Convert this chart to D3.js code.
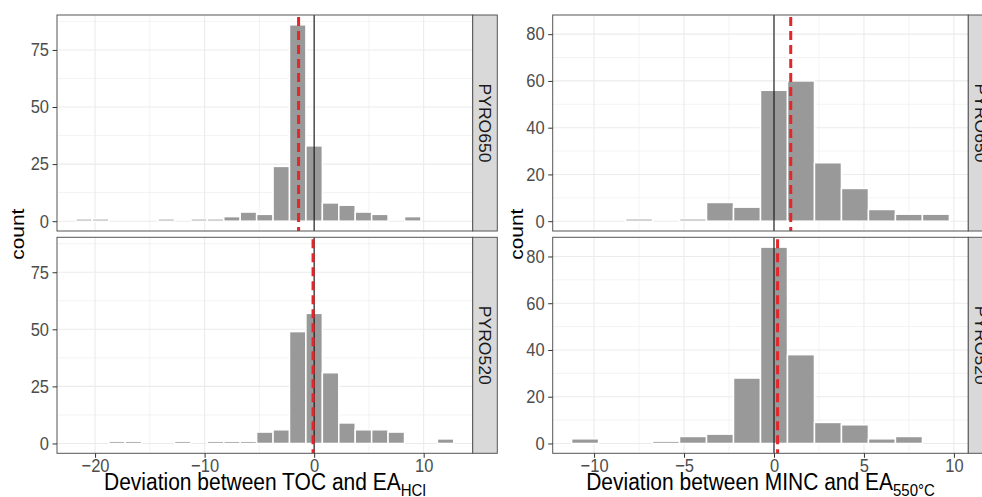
<!DOCTYPE html>
<html>
<head>
<meta charset="utf-8">
<script src="https://cdn.jsdelivr.net/npm/d3@7"></script>
<style>
  html, body { margin: 0; padding: 0; background: #fff; overflow: hidden; }
  svg { display: block; font-family: "Liberation Sans", Arial, sans-serif; }
</style>
</head>
<body>
<svg id="chart" width="982" height="497"></svg>
<script>
// histogram data (bin centres, width 1.5)
const binWidth = 1.5;
const facetLabels = ["PYRO650", "PYRO520"];

const tocBins = [-21, -19.5, -18, -16.5, -15, -13.5, -12, -10.5, -9, -7.5, -6, -4.5, -3, -1.5, 0, 1.5, 3, 4.5, 6, 7.5, 9, 10.5, 12];
const tocPyro650 = [1, 1, 0, 0, 0, 1, 0, 1, 1, 2, 4, 3, 24, 86, 33, 8, 7, 4, 3, 0, 2, 0, 0];
const tocPyro520 = [0, 0, 1, 1, 0, 0, 1, 0, 1, 1, 1, 5, 6, 49, 57, 31, 9, 6, 6, 5, 0, 0, 2];
const tocMeans = [-1.42, -0.1];
const tocXTicks = [-20, -10, 0, 10];
const tocYTicks = [0, 25, 50, 75];

const mincBins = [-10.5, -9, -7.5, -6, -4.5, -3, -1.5, 0, 1.5, 3, 4.5, 6, 7.5, 9];
const mincPyro650 = [0, 0, 1, 0, 1, 8, 6, 56, 60, 25, 14, 5, 3, 3];
const mincPyro520 = [2, 0, 0, 1, 3, 4, 28, 84, 38, 9, 8, 2, 3, 0];
const mincMeans = [0.93, 0.2];
const mincXTicks = [-10, -5, 0, 5, 10];
const mincYTicks = [0, 20, 40, 60, 80];

const svg = d3.select("#chart");
const rows = [[15, 231], [237.3, 453.3]];
const stripW = 24.6;
const gridCol = "#ebebeb";
const borderCol = "#555";
const SY = 1.1; // the source figure is a little taller than wide

// minor breaks halfway between the major ones, kept inside the domain
const minorOf = (ticks, dom) => {
  const step = ticks[1] - ticks[0];
  const out = [];
  for (let v = ticks[0] - step / 2; v <= dom[1]; v += step) {
    if (v >= dom[0]) out.push(v);
  }
  return out;
};

// stretch text vertically around its own anchor
const stretch = (sel) => sel.each(function () {
  const t = d3.select(this);
  const x = +t.attr("x") || 0, y = +t.attr("y") || 0;
  t.attr("transform", `translate(${x},${y}) scale(1,${SY}) translate(${-x},${-y})`);
});

function drawPlot(p) {
  const lo = d3.min(p.bins) - binWidth / 2;
  const hi = d3.max(p.bins) + binWidth / 2;
  const pad = (hi - lo) * 0.05;
  const x = d3.scaleLinear().domain([lo - pad, hi + pad]).range([p.left, p.right]);
  const maxC = d3.max(p.series.flat());

  p.series.forEach((counts, i) => {
    const [top, bottom] = rows[i];
    const y = d3.scaleLinear().domain([-0.05 * maxC, 1.05 * maxC]).range([bottom, top]);
    const g = svg.append("g");

    g.append("rect")
      .attr("x", p.left).attr("y", top)
      .attr("width", p.right - p.left).attr("height", bottom - top)
      .attr("fill", "#fff");

    // grid
    g.selectAll(".gx-minor").data(minorOf(p.xTicks, x.domain())).join("line")
      .attr("x1", d => x(d)).attr("x2", d => x(d))
      .attr("y1", top).attr("y2", bottom)
      .attr("stroke", gridCol).attr("stroke-width", 0.6);
    g.selectAll(".gy-minor").data(minorOf(p.yTicks, y.domain())).join("line")
      .attr("y1", d => y(d)).attr("y2", d => y(d))
      .attr("x1", p.left).attr("x2", p.right)
      .attr("stroke", gridCol).attr("stroke-width", 0.6);
    g.selectAll(".gx").data(p.xTicks).join("line")
      .attr("x1", d => x(d)).attr("x2", d => x(d))
      .attr("y1", top).attr("y2", bottom)
      .attr("stroke", gridCol).attr("stroke-width", 1.1);
    g.selectAll(".gy").data(p.yTicks).join("line")
      .attr("y1", d => y(d)).attr("y2", d => y(d))
      .attr("x1", p.left).attr("x2", p.right)
      .attr("stroke", gridCol).attr("stroke-width", 1.1);

    // bars
    g.selectAll(".bar").data(p.bins.map((c, j) => ({ c, n: counts[j] }))).join("rect")
      .attr("x", d => x(d.c - binWidth / 2))
      .attr("width", d => x(d.c + binWidth / 2) - x(d.c - binWidth / 2))
      .attr("y", d => y(d.n))
      .attr("height", d => y(0) - y(d.n))
      .attr("fill", "#999999")
      .attr("stroke", "#fff")
      .attr("stroke-width", 1.5);

    // zero line and mean line
    g.append("line")
      .attr("x1", x(0)).attr("x2", x(0))
      .attr("y1", top).attr("y2", bottom)
      .attr("stroke", "#111").attr("stroke-width", 1.1);
    g.append("line")
      .attr("x1", x(p.means[i])).attr("x2", x(p.means[i]))
      .attr("y1", top + 2).attr("y2", bottom)
      .attr("stroke", "#e3262a").attr("stroke-width", 3)
      .attr("stroke-dasharray", "9,5");

    g.append("rect")
      .attr("x", p.left).attr("y", top)
      .attr("width", p.right - p.left).attr("height", bottom - top)
      .attr("fill", "none").attr("stroke", borderCol).attr("stroke-width", 1);

    // y axis
    const ya = svg.append("g")
      .attr("transform", `translate(${p.left},0)`)
      .call(d3.axisLeft(y).tickValues(p.yTicks).tickSizeInner(4.5).tickSizeOuter(0).tickPadding(3.5));
    ya.select(".domain").remove();
    ya.selectAll("line").attr("stroke", "#333");
    ya.selectAll("text").attr("font-size", 16.5).attr("fill", "#4d4d4d")
      .attr("font-family", "Liberation Sans, Arial, sans-serif")
      .call(stretch);

    // strip
    const sx = p.right;
    svg.append("rect")
      .attr("x", sx).attr("y", top)
      .attr("width", stripW).attr("height", bottom - top)
      .attr("fill", "#d9d9d9").attr("stroke", borderCol).attr("stroke-width", 1);
    svg.append("text")
      .attr("transform", `translate(${sx + stripW / 2},${(top + bottom) / 2}) scale(1,${SY}) rotate(90)`)
      .attr("text-anchor", "middle").attr("dy", "0.35em")
      .attr("font-size", 16).attr("fill", "#1a1a1a")
      .text(facetLabels[i]);

    if (i === p.series.length - 1) {
      const xa = svg.append("g")
        .attr("transform", `translate(0,${bottom})`)
        .call(d3.axisBottom(x).tickValues(p.xTicks).tickSizeInner(4.5).tickSizeOuter(0).tickPadding(1.5));
      xa.select(".domain").remove();
      xa.selectAll("line").attr("stroke", "#333");
      xa.selectAll("text").attr("font-size", 16.5).attr("fill", "#4d4d4d")
        .attr("font-family", "Liberation Sans, Arial, sans-serif")
        .call(stretch);
    }
  });

  // axis titles
  const t = svg.append("text")
    .attr("x", (p.left + p.right) / 2).attr("y", 490)
    .attr("text-anchor", "middle").attr("font-size", 21).attr("fill", "#000");
  t.append("tspan").text(p.titleMain);
  t.append("tspan").attr("font-size", 15).attr("dy", 5.5).text(p.titleSub);
  t.call(stretch);

  svg.append("text")
    .attr("transform", `translate(${p.countX},${(rows[0][0] + rows[1][1]) / 2}) scale(1,${SY}) rotate(-90)`)
    .attr("text-anchor", "middle").attr("font-size", 19).attr("fill", "#000")
    .text("count");
}

drawPlot({
  left: 57, right: 472.7,
  bins: tocBins, series: [tocPyro650, tocPyro520], means: tocMeans,
  xTicks: tocXTicks, yTicks: tocYTicks,
  titleMain: "Deviation between TOC and EA", titleSub: "HCl", countX: 24
});

drawPlot({
  left: 552.7, right: 968.3,
  bins: mincBins, series: [mincPyro650, mincPyro520], means: mincMeans,
  xTicks: mincXTicks, yTicks: mincYTicks,
  titleMain: "Deviation between MINC and EA", titleSub: "550°C", countX: 523
});
</script>
</body>
</html>
